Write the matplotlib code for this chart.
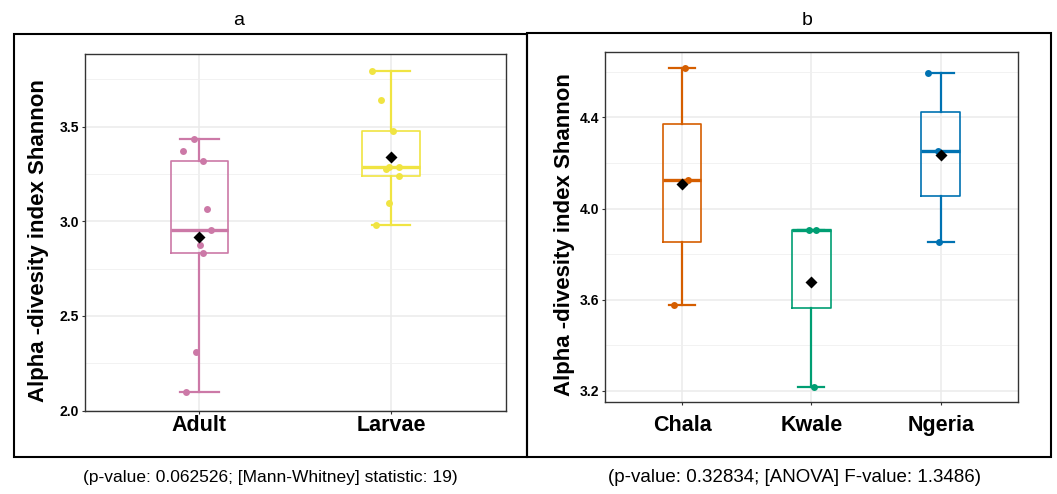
import numpy as np
import matplotlib
matplotlib.use("Agg")
import matplotlib.pyplot as plt
from matplotlib.patches import Rectangle

plt.rcParams['font.family'] = ['Liberation Sans', 'DejaVu Sans']

# ---------------- data ----------------
groups_a = ['Adult', 'Larvae']
adult = [3.436, 3.370, 3.321, 3.065, 2.956, 2.874, 2.831, 2.308, 2.100]
adult_jitter = [-0.028, -0.086, 0.018, 0.039, 0.060, 0.004, 0.018, -0.016, -0.069]
larvae = [3.795, 3.638, 3.478, 3.288, 3.276, 3.288, 3.239, 3.094, 2.979]
larvae_jitter = [-0.097, -0.051, 0.009, -0.009, -0.026, 0.041, 0.041, -0.012, -0.078]
colors_a = ['#CC79A7', '#F0E442']
yticks_a = [2.0, 2.5, 3.0, 3.5]
caption_a = "(p-value: 0.062526; [Mann-Whitney] statistic: 19)"

groups_b = ['Chala', 'Kwale', 'Ngeria']
chala = [4.618, 4.126, 3.579]
chala_jitter = [0.021, 0.042, -0.065]
kwale = [3.908, 3.908, 3.218]
kwale_jitter = [-0.021, 0.039, 0.021]
ngeria = [4.593, 4.253, 3.853]
ngeria_jitter = [-0.097, -0.024, -0.010]
colors_b = ['#D55E00', '#009E73', '#0072B2']
yticks_b = [3.2, 3.6, 4.0, 4.4]
caption_b = "(p-value: 0.32834; [ANOVA] F-value: 1.3486)"

ylabel = "Alpha -divesity index Shannon"

# ---------------- figure ----------------
W, H = 1057, 494
fig = plt.figure(figsize=(W / 100, H / 100), dpi=100)


def px_axes(x0, y0, x1, y1):
    return fig.add_axes([x0 / W, 1 - y1 / H, (x1 - x0) / W, (y1 - y0) / H])


def px_rect(x0, y0, x1, y1):
    r = Rectangle((x0 / W, 1 - y1 / H), (x1 - x0) / W, (y1 - y0) / H,
                  transform=fig.transFigure, fill=False, ec='black', lw=1.5,
                  zorder=10)
    fig.add_artist(r)


def draw_panel(ax, names, values, jitters, colors, yticks, ylim, xpad, ylab_x, ylab_y):
    positions = np.arange(1, len(names) + 1)
    for pos, vals, jit, col in zip(positions, values, jitters, colors):
        ax.boxplot([vals], positions=[pos], widths=0.3, capwidths=0.2,
                   whis=1.5, showfliers=False, patch_artist=False,
                   boxprops=dict(color=col, lw=1.2),
                   whiskerprops=dict(color=col, lw=1.6),
                   capprops=dict(color=col, lw=1.6),
                   medianprops=dict(color=col, lw=2.4),
                   zorder=3)
        ax.plot(pos + np.array(jit), vals, 'o', color=col, ms=5.0,
                mec='none', zorder=4)
        ax.plot([pos], [np.mean(vals)], 'D', color='black', ms=6,
                mec='none', zorder=5)
    ax.set_xticks(positions)
    ax.set_xticklabels(names, fontsize=15.5, fontweight='bold')
    ax.set_yticks(yticks)
    ax.set_yticklabels([f"{t:.1f}" for t in yticks], fontsize=10, fontweight='bold')
    step = yticks[1] - yticks[0]
    minor = [t + step / 2 for t in [yticks[0] - step] + list(yticks)]
    minor = [m for m in minor if ylim[0] < m < ylim[1]]
    ax.set_yticks(minor, minor=True)
    ax.tick_params(axis='y', which='minor', length=0)
    ax.tick_params(axis='both', which='major', direction='out', length=2.2,
                   width=0.8, color='#333333', labelcolor='black')
    ax.tick_params(axis='y', pad=1.5)
    ax.tick_params(axis='x', pad=xpad)
    ax.grid(True, which='major', color='#ebebeb', lw=1.1, zorder=0)
    ax.grid(True, which='minor', axis='y', color='#f0f0f0', lw=0.6, zorder=0)
    ax.set_axisbelow(True)
    for s in ax.spines.values():
        s.set_color('#333333')
        s.set_linewidth(1.0)
    lab = ax.set_ylabel(ylabel, fontsize=16, fontweight='bold')
    ax.yaxis.set_label_coords(ylab_x, ylab_y)
    lab.set_verticalalignment('center')
    ax.set_xlim(0.4, len(names) + 0.6)
    ax.set_ylim(*ylim)


# outer frames
px_rect(13.5, 33.5, 527, 457)
px_rect(527, 33.0, 1050.5, 457)

# panel a
ax1 = px_axes(84.5, 54.3, 506, 411)
draw_panel(ax1, groups_a, [adult, larvae], [adult_jitter, larvae_jitter],
           colors_a, yticks_a, (1.998, 3.882), 0.7, -0.110, 0.479)

# panel b
ax2 = px_axes(604.5, 52.0, 1018.3, 402.3)
draw_panel(ax2, groups_b, [chala, kwale, ngeria],
           [chala_jitter, kwale_jitter, ngeria_jitter],
           colors_b, yticks_b, (3.150, 4.687), 7.0, -0.0955, 0.48)

# panel titles
fig.text(239 / W, 1 - 25 / H, 'a', fontsize=14, ha='center', va='baseline')
fig.text(807 / W, 1 - 25 / H, 'b', fontsize=14, ha='center', va='baseline')

# captions
fig.text(270 / W, 1 - 477 / H, caption_a, fontsize=12.5, ha='center', va='center')
fig.text(795 / W, 1 - 477 / H, caption_b, fontsize=13.5, ha='center', va='center')

fig.savefig('out.png', dpi=100)
